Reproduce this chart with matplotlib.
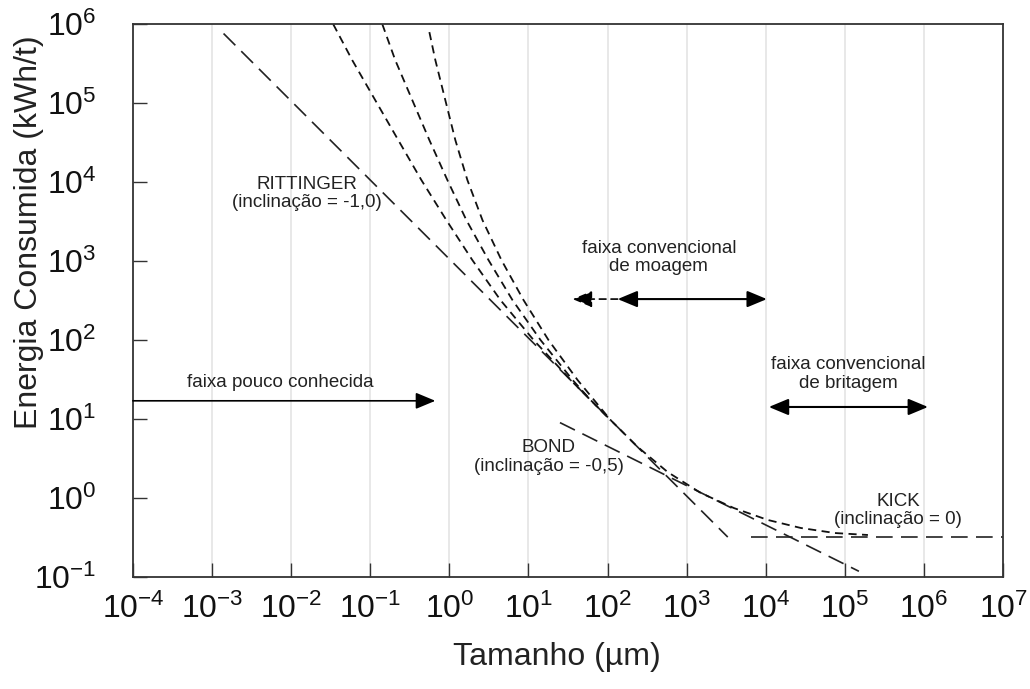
import matplotlib.pyplot as plt
from matplotlib.ticker import LogLocator, NullLocator

plt.rcParams['font.family'] = ['Liberation Sans', 'DejaVu Sans']
plt.rcParams['mathtext.fontset'] = 'custom'
plt.rcParams['mathtext.rm'] = 'Liberation Sans'

#-----------------------------------------------------------------------------
# Energy-size relations (x = particle size in um, E = energy in kWh/t)
rittinger_x = [1.4e-3, 3.3e3]
rittinger_E = [7.6e5, 0.32]

bond_x = [25, 1.5e5]
bond_E = [9.0, 0.118]

kick_x = [6.5e3, 1e7]
kick_E = [0.32, 0.32]

# three upper branches, joining the Rittinger line
branch1_x = [0.034, 0.0592, 0.1156, 0.226, 0.443, 0.916, 1.95, 4.42, 11.6, 37.1, 109]
branch1_E = [1e6, 3.5e5, 1.09e5, 3.4e4, 1.06e4, 3.3e3, 1.03e3, 321, 100, 28.6, 9.7]

branch2_x = [0.142, 0.207, 0.34, 0.559, 0.944, 1.64, 3.12, 6.27, 14.2, 36.1, 61.0, 109]
branch2_E = [1e6, 3.5e5, 1.09e5, 3.4e4, 1.06e4, 3.3e3, 1.03e3, 321, 100, 31.2, 17.4, 9.7]

branch3_x = [0.559, 0.665, 0.889, 1.19, 1.69, 2.62, 4.55, 8.65, 17.9, 41.7, 109]
branch3_E = [7.92e5, 3.5e5, 1.09e5, 3.4e4, 1.06e4, 3.3e3, 1.03e3, 321, 100, 31.2, 9.7]

# common lower part running into the Kick region
trunk_x = [109, 240, 574, 1500, 3940, 1.06e4, 2.77e4, 7.47e4, 1.95e5]
trunk_E = [9.7, 4.43, 2.13, 1.16, 0.746, 0.527, 0.417, 0.36, 0.34]

decades = [1e-3, 1e-2, 1e-1, 1e0, 1e1, 1e2, 1e3, 1e4, 1e5, 1e6]

#-----------------------------------------------------------------------------
fig = plt.figure(figsize=(10.3, 6.89), dpi=100)
ax = fig.add_axes([0.129, 0.1626, 0.845, 0.8024])
ax.set_xscale('log')
ax.set_yscale('log')
ax.set_xlim(1e-4, 1e7)
ax.set_ylim(1e-1, 1e6)

for d in decades:
    ax.axvline(d, color='#e2e2e2', lw=1.1, zorder=0)

long_dash = dict(color='#222222', lw=1.2, dashes=(10, 5))
short_dash = dict(color='#111111', lw=1.3, dashes=(4.5, 3))

ax.plot(rittinger_x, rittinger_E, **long_dash)
ax.plot(bond_x, bond_E, **long_dash)
ax.plot(kick_x, kick_E, **long_dash)

ax.plot(branch1_x, branch1_E, **short_dash)
ax.plot(branch2_x, branch2_E, **short_dash)
ax.plot(branch3_x, branch3_E, **short_dash)
ax.plot(trunk_x, trunk_E, **short_dash)

# ranges
arrow_1 = dict(arrowstyle='-|>,head_length=0.6,head_width=0.25', mutation_scale=20,
               color='black', lw=1.2, shrinkA=0, shrinkB=0)
arrow_2 = dict(arrowstyle='<|-|>,head_length=0.6,head_width=0.25', mutation_scale=20,
               color='black', lw=1.5, shrinkA=0, shrinkB=0)
arrow_dash = dict(arrowstyle='-|>,head_length=0.6,head_width=0.25', mutation_scale=20,
                  color='black', lw=1.2, shrinkA=0, shrinkB=0, linestyle=(0, (4, 3)))

ax.annotate('', xy=(0.665, 17), xytext=(1e-4, 17), arrowprops=arrow_1)
ax.annotate('', xy=(36, 330), xytext=(134, 330), arrowprops=arrow_dash)
ax.annotate('', xy=(134, 330), xytext=(1.03e4, 330), arrowprops=arrow_2)
ax.annotate('', xy=(1.09e4, 14.2), xytext=(1.12e6, 14.2), arrowprops=arrow_2)

fs = 13.5
txt = dict(fontsize=fs, ha='center', va='center', multialignment='center',
           linespacing=1.1, color='#222222')
ax.text(7.3e-3, 28.6, 'faixa pouco conhecida', **txt)
ax.text(443, 1120, 'faixa convencional\nde moagem', **txt)
ax.text(1.09e5, 37, 'faixa convencional\nde britagem', **txt)
ax.text(0.016, 7200, 'RITTINGER\n(inclinação = -1,0)', **txt)
ax.text(17.9, 3.3, 'BOND\n(inclinação = -0,5)', **txt)
ax.text(4.7e5, 0.69, 'KICK\n(inclinação = 0)', **txt)

ax.xaxis.set_major_locator(LogLocator(base=10, numticks=20))
ax.yaxis.set_major_locator(LogLocator(base=10, numticks=20))
ax.xaxis.set_minor_locator(NullLocator())
ax.yaxis.set_minor_locator(NullLocator())
ax.tick_params('both', which='major', length=10, width=1, direction='in',
               labelsize=23, color='#333333', labelcolor='#111111')
ax.tick_params('x', pad=12)
ax.tick_params('y', pad=26)
for s in ax.spines.values():
    s.set_linewidth(1.3)
    s.set_color('#333333')

ax.set_xlabel('Tamanho (µm)', fontsize=23, color='#222222')
ax.set_ylabel('Energia Consumida (kWh/t)', fontsize=23, color='#222222')
ax.xaxis.set_label_coords(0.487, -0.118)
ax.yaxis.set_label_coords(-0.102, 0.624)

plt.savefig('out.png', dpi=100)
plt.close()
